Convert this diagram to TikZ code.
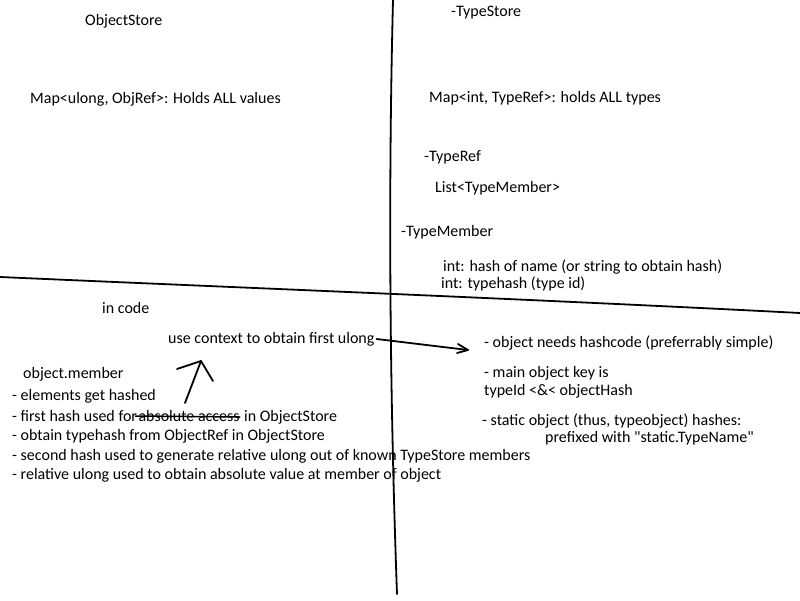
\documentclass[tikz,border=0pt]{standalone}
\usepackage{fontspec}
\setmainfont{Carlito}[Ligatures=TeXOff]
\begin{document}
\begin{tikzpicture}[x=1pt,y=-1pt,
  txt/.style={anchor=west,inner sep=0pt,font=\fontsize{16}{19}\selectfont},
  pen/.style={line width=1.8pt,line cap=round,line join=round}]
\useasboundingbox[fill=white] (0,0) rectangle (800,600);
% dividing lines
\draw[pen] (393,0) .. controls (388,200) and (390,400) .. (397,594);
\draw[pen] (0,277) .. controls (250,288) and (550,300) .. (800,313);
% texts
\node[txt] (os) at (85,21) {ObjectStore};
\node[txt] (osmap) at (30,99) {Map<ulong, ObjRef>: Holds ALL values};
\node[txt] (ts) at (451,13) {-TypeStore};
\node[txt] (tsmap) at (429,98) {Map<int, TypeRef>: holds ALL types};
\node[txt] (tr) at (424,157) {-TypeRef};
\node[txt] (trlist) at (435,188) {List<TypeMember>};
\node[txt] (tm) at (401,232) {-TypeMember};
\node[txt] (tm1) at (443,267) {int: hash of name (or string to obtain hash)};
\node[txt] (tm2) at (441,284) {int: typehash (type id)};
\node[txt] (incode) at (102,308) {in code};
\node[txt] (ctx) at (168,339) {use context to obtain first ulong};
\node[txt] (om) at (23,374) {object.member};
\node[txt] (l1) at (12,396) {- elements get hashed};
\node[txt] (l2a) at (12,416) {- first hash used for};
\node[txt,anchor=base west] (l2b) at ([xshift=1pt]l2a.base east) {absolute access};
\node[txt,anchor=base west] (l2c) at ([xshift=4pt]l2b.base east) {in ObjectStore};
\node[txt] (l3) at (12,436) {- obtain typehash from ObjectRef in ObjectStore};
\node[txt] (l4) at (12,456) {- second hash used to generate relative ulong out of known TypeStore members};
\node[txt] (l5) at (12,475) {- relative ulong used to obtain absolute value at member of object};
\node[txt] (r1) at (484,343) {- object needs hashcode (preferrably simple)};
\node[txt] (r2) at (484,373) {- main object key is};
\node[txt] (r3) at (484,391) {typeId <\&< objectHash};
\node[txt] (r4) at (482,421) {- static object (thus, typeobject) hashes:};
\node[txt] (r5) at (545,438) {prefixed with "static.TypeName"};
% strike-through
\draw[pen,line width=1.5pt] ([xshift=-3pt]l2b.west) -- ([yshift=-1pt]l2b.east);
% arrow right
\coordinate (ae) at (468,350);
\draw[pen] ([xshift=2pt]ctx.east) -- (ae);
\draw[pen] (458,344) -- (ae) -- (457,353);
% up arrow
\coordinate (ub) at (185,403);
\coordinate (ut) at (201,361);
\draw[pen] (ub) -- (ut);
\draw[pen] (177,369) -- (ut) -- (213,381);
\end{tikzpicture}
\end{document}
